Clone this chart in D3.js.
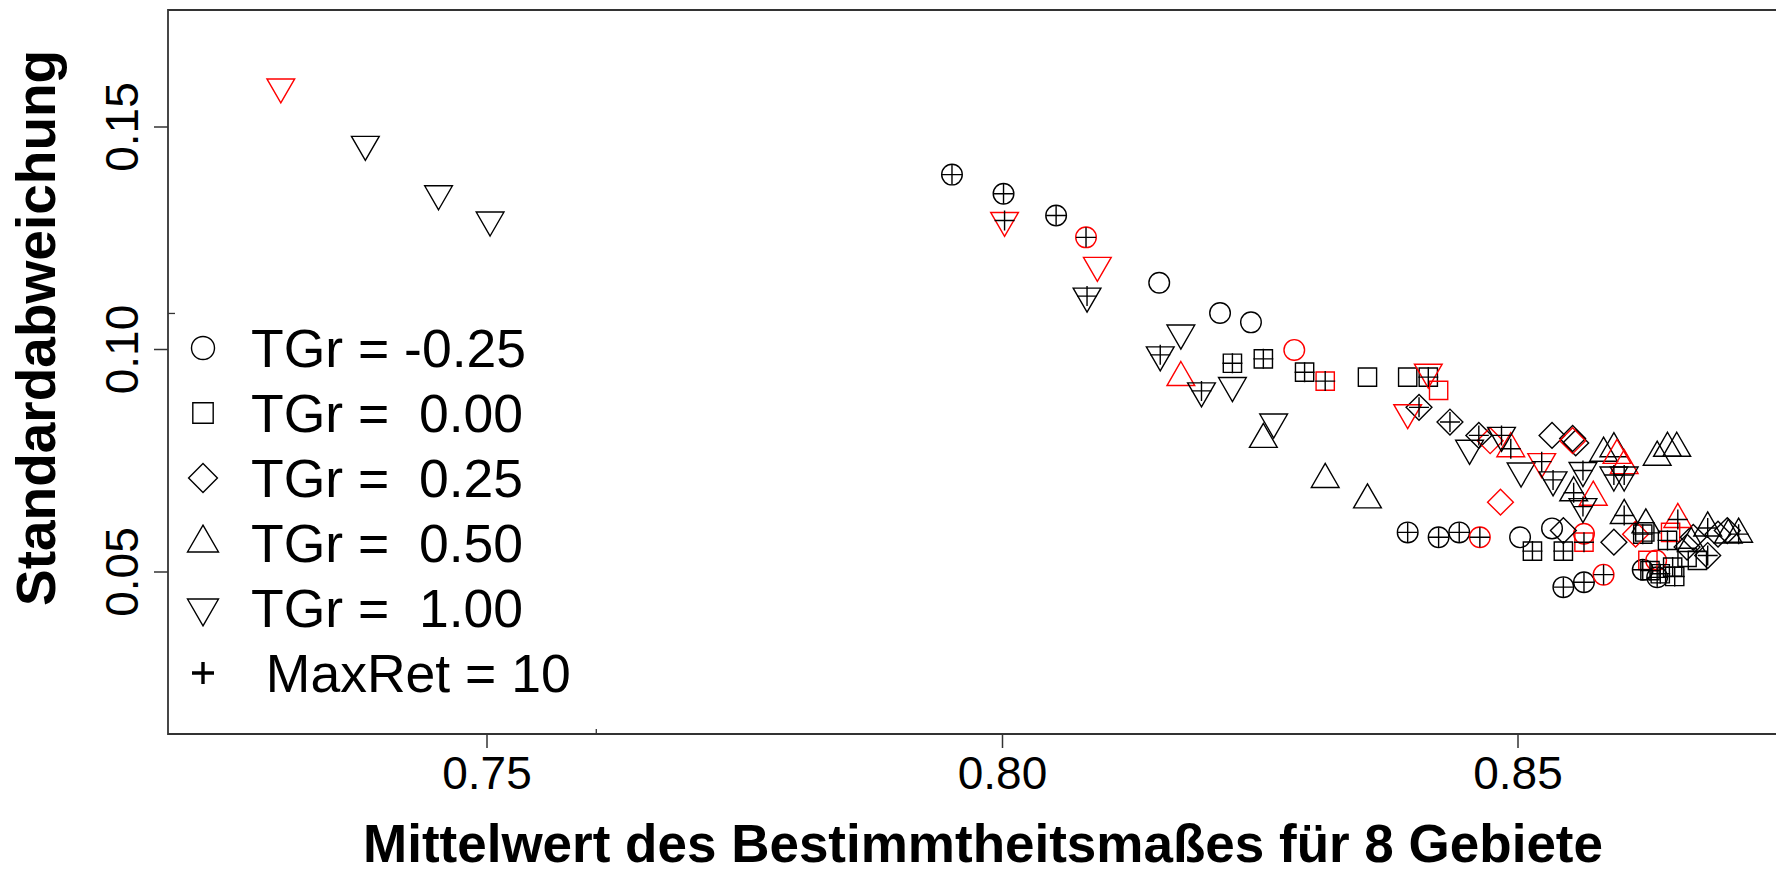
<!DOCTYPE html>
<html>
<head>
    <meta charset="UTF-8">
    <title>Standardabweichung vs. Mittelwert</title>
    <script src="https://d3js.org/d3.v7.min.js"></script>
    <style>
        body { margin: 0; background: #fff; }
        text { font-family: "Liberation Sans", Arial, sans-serif; fill: #000; }
    </style>
</head>
<body>
    <div id="chart"></div>

    <script>
        // Each point: [mean, sd, maxRet10 (1 = "+" overlay), variant (1 = red)]
        var tgrM025 = [
            [0.7951, 0.1393, 1, 0], [0.8001, 0.1350, 1, 0], [0.8052, 0.1301, 1, 0],
            [0.8081, 0.1252, 1, 1], [0.8152, 0.1150, 0, 0], [0.8211, 0.1082, 0, 0],
            [0.8241, 0.1061, 0, 0], [0.8283, 0.0999, 0, 1], [0.8393, 0.0589, 1, 0],
            [0.8423, 0.0578, 1, 0], [0.8443, 0.0589, 1, 0], [0.8463, 0.0578, 1, 1],
            [0.8502, 0.0578, 0, 0], [0.8533, 0.0598, 0, 0], [0.8544, 0.0466, 1, 0],
            [0.8564, 0.0477, 1, 0], [0.8583, 0.0494, 1, 1], [0.8621, 0.0505, 1, 0],
            [0.8564, 0.0586, 0, 1], [0.8634, 0.0526, 0, 1], [0.8635, 0.0488, 1, 0]
        ];
        var tgr000 = [
            [0.8223, 0.0969, 1, 0], [0.8253, 0.0979, 1, 0], [0.8293, 0.0949, 1, 0],
            [0.8313, 0.0929, 1, 1], [0.8354, 0.0938, 0, 0], [0.8393, 0.0938, 0, 0],
            [0.8413, 0.0938, 1, 0], [0.8423, 0.0908, 0, 1], [0.8514, 0.0547, 1, 0],
            [0.8544, 0.0547, 1, 0], [0.8564, 0.0567, 1, 1], [0.8621, 0.0585, 1, 0],
            [0.8623, 0.0590, 0, 0], [0.8626, 0.0526, 0, 1], [0.8648, 0.0589, 0, 1],
            [0.8628, 0.0503, 1, 0], [0.8638, 0.0496, 1, 0], [0.8645, 0.0571, 1, 0],
            [0.8650, 0.0511, 1, 0], [0.8652, 0.0490, 1, 0], [0.8664, 0.0533, 0, 0],
            [0.8674, 0.0526, 0, 0]
        ];
        var tgr025 = [
            [0.8404, 0.0870, 1, 0], [0.8434, 0.0837, 1, 0], [0.8462, 0.0807, 1, 0],
            [0.8473, 0.0795, 0, 1], [0.8533, 0.0807, 0, 0], [0.8553, 0.0800, 0, 0],
            [0.8556, 0.0790, 0, 0], [0.8553, 0.0795, 0, 1], [0.8483, 0.0657, 0, 1],
            [0.8544, 0.0593, 0, 0], [0.8593, 0.0567, 0, 0], [0.8614, 0.0585, 0, 1],
            [0.8664, 0.0556, 0, 0], [0.8670, 0.0578, 0, 0], [0.8684, 0.0537, 1, 0],
            [0.8694, 0.0585, 0, 0], [0.8703, 0.0593, 0, 0]
        ];
        var tgr050 = [
            [0.8173, 0.0937, 0, 1], [0.8253, 0.0798, 0, 0], [0.8313, 0.0708, 0, 0],
            [0.8354, 0.0662, 0, 0], [0.8493, 0.0777, 1, 1], [0.8583, 0.0767, 0, 0],
            [0.8593, 0.0777, 0, 0], [0.8596, 0.0762, 0, 1], [0.8603, 0.0739, 0, 1],
            [0.8635, 0.0758, 0, 0], [0.8645, 0.0778, 0, 0], [0.8654, 0.0778, 0, 0],
            [0.8554, 0.0678, 1, 0], [0.8573, 0.0668, 0, 1], [0.8603, 0.0627, 1, 0],
            [0.8624, 0.0606, 0, 0], [0.8655, 0.0618, 1, 1], [0.8684, 0.0599, 1, 0],
            [0.8704, 0.0583, 0, 0], [0.8714, 0.0585, 1, 0], [0.8668, 0.0564, 0, 0]
        ];
        var tgr100 = [
            [0.7300, 0.1590, 0, 1], [0.7382, 0.1461, 0, 0], [0.7453, 0.1350, 0, 0],
            [0.7503, 0.1291, 0, 0], [0.8002, 0.1290, 1, 1], [0.8092, 0.1189, 0, 1],
            [0.8082, 0.1120, 1, 0], [0.8173, 0.1037, 0, 0], [0.8153, 0.0988, 1, 0],
            [0.8193, 0.0907, 1, 0], [0.8223, 0.0919, 0, 0], [0.8263, 0.0837, 0, 0],
            [0.8413, 0.0949, 0, 1], [0.8393, 0.0858, 0, 1], [0.8453, 0.0778, 0, 0],
            [0.8484, 0.0807, 1, 0], [0.8503, 0.0727, 0, 0], [0.8523, 0.0748, 1, 1],
            [0.8534, 0.0707, 1, 0], [0.8563, 0.0728, 1, 0], [0.8593, 0.0718, 1, 0],
            [0.8603, 0.0718, 1, 0], [0.8563, 0.0647, 1, 0]
        ];

        var shapes = ["circle", "square", "diamond", "up", "down"];
        var legendLabels = ["TGr = -0.25", "TGr =  0.00", "TGr =  0.25", "TGr =  0.50", "TGr =  1.00"];
        var plusLabel = " MaxRet = 10";
        var xTicks = [0.75, 0.80, 0.85];
        var yTicks = [0.05, 0.10, 0.15];
        var innerTicksX = [0.7606];
        var innerTicksY = [0.1081];

        var width = 1776, height = 873;
        var plot = {left: 168, top: 10, bottom: 734, right: 1800};

        var svg = d3.select("#chart").append("svg")
            .attr("width", width)
            .attr("height", height);

        var x = d3.scaleLinear().domain([0.75, 0.85]).range([487, 1518]);
        var y = d3.scaleLinear().domain([0.05, 0.15]).range([572, 127]);
        var color = d3.scaleOrdinal().domain([0, 1]).range(["#000000", "#ff0000"]);

        // R-like pch outlines, R = base circle radius
        function symbolPath(shape, R) {
            var p = d3.path();
            if (shape === "circle") {
                p.moveTo(R, 0); p.arc(0, 0, R, 0, 2 * Math.PI);
            } else if (shape === "square") {
                var s = 0.886 * R;
                p.rect(-s, -s, 2 * s, 2 * s);
            } else if (shape === "diamond") {
                var d = 1.2533 * R;
                p.moveTo(0, -d); p.lineTo(d, 0); p.lineTo(0, d); p.lineTo(-d, 0); p.closePath();
            } else {
                var dir = shape === "up" ? 1 : -1;
                var a = 1.5551 * R, b = 0.7776 * R, w = 1.3468 * R;
                p.moveTo(0, -dir * a); p.lineTo(w, dir * b); p.lineTo(-w, dir * b); p.closePath();
            }
            return p.toString();
        }
        function plusPath(h) {
            return "M" + (-h) + ",0H" + h + "M0," + (-h) + "V" + h;
        }

        // frame (open on the right, the plot is cut by the image edge)
        svg.append("path")
            .attr("d", "M" + plot.right + "," + plot.top + "H" + plot.left + "V" + plot.bottom + "H" + plot.right)
            .attr("fill", "none")
            .attr("stroke", "#333")
            .attr("stroke-width", 1.8);

        // x axis
        svg.selectAll(".xtick").data(xTicks).enter().append("line")
            .attr("x1", d => x(d)).attr("x2", d => x(d))
            .attr("y1", plot.bottom).attr("y2", plot.bottom + 14)
            .attr("stroke", "#333").attr("stroke-width", 1.5);
        svg.selectAll(".xlab").data(xTicks).enter().append("text")
            .attr("x", d => x(d)).attr("y", 789)
            .attr("text-anchor", "middle")
            .style("font-size", "46px")
            .text(d => d3.format(".2f")(d));
        svg.selectAll(".xin").data(innerTicksX).enter().append("line")
            .attr("x1", d => x(d)).attr("x2", d => x(d))
            .attr("y1", plot.bottom).attr("y2", plot.bottom - 5)
            .attr("stroke", "#333").attr("stroke-width", 1.3);

        // y axis
        svg.selectAll(".ytick").data(yTicks).enter().append("line")
            .attr("x1", plot.left - 14).attr("x2", plot.left)
            .attr("y1", d => y(d)).attr("y2", d => y(d))
            .attr("stroke", "#333").attr("stroke-width", 1.5);
        svg.selectAll(".ylab").data(yTicks).enter().append("text")
            .attr("transform", d => "translate(138," + y(d) + ") rotate(-90)")
            .attr("text-anchor", "middle")
            .style("font-size", "46px")
            .text(d => d3.format(".2f")(d));
        svg.selectAll(".yin").data(innerTicksY).enter().append("line")
            .attr("x1", plot.left).attr("x2", plot.left + 7)
            .attr("y1", d => y(d)).attr("y2", d => y(d))
            .attr("stroke", "#333").attr("stroke-width", 1.3);

        // axis titles
        svg.append("text")
            .attr("x", 983).attr("y", 862)
            .attr("text-anchor", "middle")
            .style("font-size", "53px").style("font-weight", "bold")
            .text("Mittelwert des Bestimmtheitsmaßes für 8 Gebiete");
        svg.append("text")
            .attr("transform", "translate(55,606) rotate(-90)")
            .attr("text-anchor", "start")
            .style("font-size", "55px").style("font-weight", "bold")
            .text("Standardabweichung");

        // points
        var series = [tgrM025, tgr000, tgr025, tgr050, tgr100];
        var pts = svg.append("g");
        series.forEach(function (data, i) {
            pts.selectAll(".s" + i).data(data).enter().append("path")
                .attr("transform", d => "translate(" + x(d[0]) + "," + y(d[1]) + ")")
                .attr("d", symbolPath(shapes[i], 10.3))
                .attr("fill", "none")
                .attr("stroke", d => color(d[3]))
                .attr("stroke-width", 1.4);
        });
        series.forEach(function (data, i) {
            pts.selectAll(".p" + i).data(data.filter(d => d[2] === 1)).enter().append("path")
                .attr("transform", d => "translate(" + x(d[0]) + "," + y(d[1]) + ")")
                .attr("d", plusPath(10))
                .attr("fill", "none")
                .attr("stroke", "#000")
                .attr("stroke-width", 1.4);
        });

        // legend
        var legend = svg.append("g");
        var rowY = d3.scaleLinear().domain([0, 1]).range([348, 413]);
        shapes.forEach(function (s, i) {
            legend.append("path")
                .attr("transform", "translate(203," + rowY(i) + ")")
                .attr("d", symbolPath(s, 11.5))
                .attr("fill", "none").attr("stroke", "#000").attr("stroke-width", 1.4);
            legend.append("text")
                .attr("x", 251).attr("y", rowY(i) + 19)
                .attr("xml:space", "preserve")
                .style("white-space", "pre")
                .style("font-size", "53.5px")
                .text(legendLabels[i]);
        });
        legend.append("path")
            .attr("transform", "translate(203," + rowY(5) + ")")
            .attr("d", plusPath(11))
            .attr("fill", "none").attr("stroke", "#000").attr("stroke-width", 3.4);
        legend.append("text")
            .attr("x", 251).attr("y", rowY(5) + 19)
            .attr("xml:space", "preserve")
            .style("white-space", "pre")
            .style("font-size", "53.5px")
            .text(plusLabel);
    </script>
</body>
</html>
